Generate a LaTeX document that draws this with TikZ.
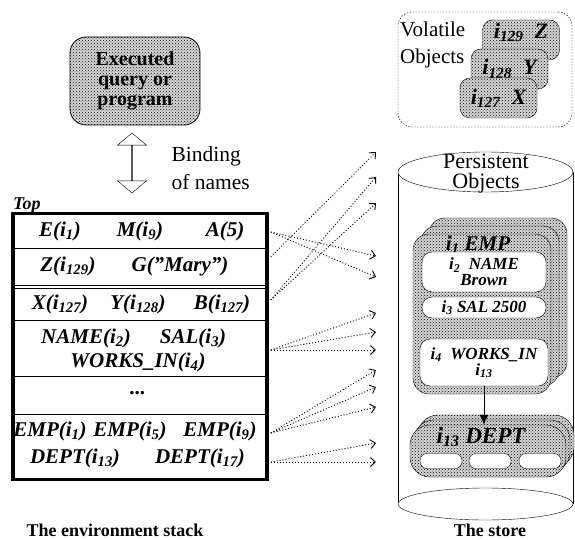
\documentclass[tikz,border=0pt]{standalone}
\usepackage{fontspec}
\setmainfont{Liberation Serif}
\usetikzlibrary{patterns,shapes.arrows,arrows.meta}
\newcommand{\ix}[1]{i\textsubscript{#1}}
\newcommand{\fs}[2]{\fontsize{#1}{#2}\selectfont}
\tikzset{
	halftone/.style={preaction={fill=gray!30},pattern=crosshatch dots,pattern color=black},
	execbox/.style={draw,thick,halftone,rounded corners=16pt,minimum width=130,minimum height=88,inner sep=0,align=center,font=\fs{20}{20}\bfseries},
	stackbox/.style={draw,line width=3.5pt,minimum width=254,minimum height=266,inner sep=0},
	rowtext/.style={inner sep=0,font=\fs{21}{24}\bfseries\itshape},
	volbox/.style={draw,dash pattern=on 1.5pt off 1.5pt,rounded corners=14pt,minimum width=174,minimum height=115},
	objbox/.style={draw,halftone,rounded corners=10pt,minimum width=77,minimum height=40,inner sep=0,font=\fs{22}{22}\bfseries\itshape},
	empbox/.style={draw,halftone,rounded corners=16pt,minimum width=138,minimum height=160,inner sep=0},
	deptbox/.style={draw,halftone,rounded corners=20pt,minimum width=156,minimum height=52,inner sep=0},
	inbox/.style={draw,fill=white,rounded corners=10pt,minimum width=124,inner sep=0,align=center,font=\fs{17}{16}\bfseries\itshape},
	slot/.style={draw,fill=white,rounded corners=7pt,minimum width=42,minimum height=15,inner sep=0},
	caption/.style={font=\fs{18}{20}\bfseries},
	ptr/.style={line width=0.9pt,dash pattern=on 1pt off 2pt,-{Straight Barb[length=5pt,width=9pt]}}
}

\begin{document}
\begin{tikzpicture}[x=1pt,y=-1pt]
	\useasboundingbox (0,0) rectangle (575,540);
	%%%query and binding
	\node[execbox] (exec) at (135,81) {Executed\\query or\\program};
	\node[double arrow,draw,fill=white,shape border rotate=90,minimum height=60,minimum width=29,double arrow head extend=8pt,double arrow tip angle=100,inner sep=0] (bind) at (132,163) {};
	\node[anchor=west,align=left,font=\fs{21.5}{28}] (bindtxt) at (168,168) {Binding\\of names};
	\node[anchor=base west,inner sep=0,font=\fs{18}{20}\bfseries\itshape] (top) at (13,209) {Top};
	%%%environment stack
	\node[stackbox] (stack) at (140,346.5) {};
	\foreach \y in {248,285,288,320,376,414}
		\draw (stack.west |- 0,\y) -- (stack.east |- 0,\y);
	\node[rowtext] (e) at (60,231) {E(\ix{1})};
	\node[rowtext] (m) at (140,231) {M(\ix{9})};
	\node[rowtext] (a) at (225,231) {A(5)};
	\node[rowtext] (z) at (68,266) {Z(\ix{129})};
	\node[rowtext] (g) at (180,266) {G("Mary")};
	\node[rowtext] (x) at (60,304) {X(\ix{127})};
	\node[rowtext] (y) at (138,304) {Y(\ix{128})};
	\node[rowtext] (b) at (222,304) {B(\ix{127})};
	\node[rowtext] (name) at (86,338) {NAME(\ix{2})};
	\node[rowtext] (sal) at (193,338) {SAL(\ix{3})};
	\node[rowtext] (works) at (138,362) {WORKS\_IN(\ix{4})};
	\node[rowtext] (dots) at (138,393) {...};
	\node[rowtext] (emp1) at (50,431) {EMP(\ix{1})};
	\node[rowtext] (emp5) at (130,431) {EMP(\ix{5})};
	\node[rowtext] (emp9) at (220,431) {EMP(\ix{9})};
	\node[rowtext] (dept13) at (75,458) {DEPT(\ix{13})};
	\node[rowtext] (dept17) at (200,458) {DEPT(\ix{17})};
	\node[caption] (envcap) at (115,530) {The environment stack};
	%%%volatile objects
	\node[volbox] (vol) at (485,69.5) {};
	\node[anchor=west,align=left,inner sep=1pt,font=\fs{21}{27}] (voltxt) at (399,45) {Volatile\\Objects};
	\node[objbox,text depth=18pt] (objz) at (521,40) {\ix{129}\ \ Z};
	\node[objbox] (objy) at (509.5,69) {\ix{128}\ \ Y};
	\node[objbox] (objx) at (498.5,98) {\ix{127}\ \ X};
	%%%the store
	\draw (398,172) -- (398,504) (573,172) -- (573,504);
	\draw[fill=white] (485.5,504) ellipse [x radius=87.5,y radius=16];
	\draw[fill=white] (485.5,172) ellipse [x radius=87.5,y radius=20];
	\node[align=center,inner sep=0,font=\fs{22}{20}] (pers) at (486,174) {Persistent\\Objects};
	\node[empbox] (emp9box) at (498,298) {};
	\node[empbox] (emp5box) at (490,306) {};
	\node[empbox] (emp1box) at (482,314) {};
	\node[font=\fs{21}{21}\bfseries\itshape] (emp1txt) at (478,245) {\ix{1}\ EMP};
	\node[inbox,minimum height=40] (namebox) at (484,272) {\ix{2}\ \ NAME\\Brown};
	\node[inbox,minimum height=21] (salbox) at (484,307.5) {\ix{3}\ SAL\ 2500};
	\node[inbox,minimum width=128,minimum height=47] (worksbox) at (484,362.5) {\ix{4}\ \ WORKS\_IN\\\ix{13}};
	\node[deptbox] (dept3) at (496,441) {};
	\node[deptbox] (dept2) at (492,446) {};
	\node[deptbox] (dept1) at (488,451) {};
	\node[font=\fs{23}{23}\bfseries\itshape] (depttxt) at (481,437) {\ix{13}\ DEPT};
	\node[slot] (slot1) at (441,461) {};
	\node[slot] (slot2) at (490,461) {};
	\node[slot] (slot3) at (540,461) {};
	\draw[thick,-{Latex[length=10pt,width=9pt]}] (worksbox.south) -- (worksbox.south |- dept1.north);
	\node[caption] (storecap) at (490,530) {The store};
	%%%bindings into the store
	\foreach \n/\y in {1/232,2/257,3/300,4/350,5/433,6/462}
		\coordinate (s\n) at ([xshift=2pt]stack.east |- 0,\y);
	\foreach \n/\y in {1/152,2/177,3/203,4/256,5/277,6/313,7/332,8/350,9/370,10/387,11/407,12/443,13/462}
		\coordinate (t\n) at (376,\y);
	\foreach \s/\t in {1/4,1/5,2/1,3/2,3/3,4/6,4/7,4/8,5/9,5/10,5/11,6/12,6/13}
		\draw[ptr] (s\s) -- (t\t);
\end{tikzpicture}
\end{document}
